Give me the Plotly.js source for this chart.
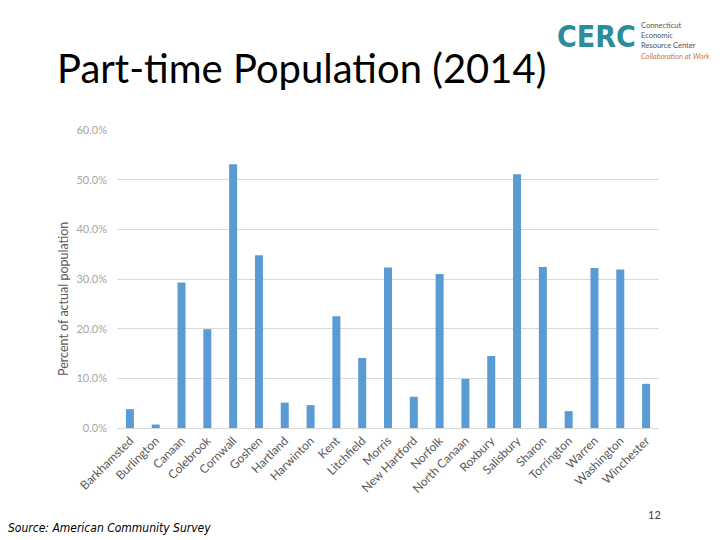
<!DOCTYPE html>
<html>
<head>
<meta charset="utf-8">
<script src="https://cdn.plot.ly/plotly-3.0.1.min.js"></script>
<style>html,body{margin:0;padding:0;background:#fff;}#chart{width:720px;height:540px;}</style>
</head>
<body>
<div id="chart"></div>
<script>
const towns = ["Barkhamsted","Burlington","Canaan","Colebrook","Cornwall","Goshen","Hartland","Harwinton","Kent","Litchfield","Morris","New Hartford","Norfolk","North Canaan","Roxbury","Salisbury","Sharon","Torrington","Warren","Washington","Winchester"];
const partTimePct = [3.8,0.7,29.3,19.9,53.1,34.8,5.1,4.6,22.5,14.1,32.3,6.3,31.0,9.9,14.5,51.1,32.4,3.4,32.2,31.9,8.9];
const yTicks = [0,10,20,30,40,50,60];
const yTickLabels = ["0.0%","10.0%","20.0%","30.0%","40.0%","50.0%","60.0%"];

const trace = {
  type: 'bar',
  x: towns,
  y: partTimePct,
  marker: {color: '#5B9BD5'},
  hoverinfo: 'x+y'
};

const layout = {
  width: 720, height: 540,
  margin: {l: 117, r: 61, t: 130, b: 112},
  paper_bgcolor: '#fff', plot_bgcolor: '#fff',
  bargap: 0.69,
  showlegend: false,
  font: {family: 'Lato, "Open Sans", sans-serif', color: '#595959'},
  xaxis: {
    tickangle: -45,
    tickfont: {size: 12, color: '#595959'},
    showgrid: false,
    showline: true, linecolor: '#d9d9d9', linewidth: 1,
    ticks: '', automargin: false
  },
  yaxis: {
    range: [0, 60],
    tickvals: yTicks,
    ticktext: yTickLabels,
    tickfont: {size: 11, color: '#a6a6a6'},
    showgrid: true, gridcolor: '#d9d9d9', gridwidth: 1,
    zeroline: false, showline: false, ticks: '',
    ticklabelstandoff: 9,
    automargin: false
  },
  annotations: [
    {text: 'Part-time Population (2014)', xref: 'paper', yref: 'paper', x: 0, xanchor: 'left', xshift: -62,
     y: 1, yanchor: 'middle', yshift: 62, showarrow: false,
     font: {family: 'Lato, sans-serif', size: 40, color: '#000'}},
    {text: 'Percent of actual population', xref: 'paper', yref: 'paper', x: 0, xanchor: 'center', xshift: -54,
     y: 0.5, yanchor: 'middle', yshift: -20, textangle: -90, showarrow: false,
     font: {family: 'Lato, sans-serif', size: 12.5, color: '#595959'}},
    {text: '<b>CERC</b>', xref: 'paper', yref: 'paper', x: 0, xanchor: 'left', xshift: 438,
     y: 1, yanchor: 'middle', yshift: 94, showarrow: false,
     font: {family: '"DejaVu Sans Condensed", sans-serif', size: 30, color: '#2a8c9c'}},
    {text: 'Connecticut<br>Economic<br>Resource Center', xref: 'paper', yref: 'paper', x: 0, xanchor: 'left', xshift: 522,
     y: 1, yanchor: 'middle', yshift: 95, showarrow: false, align: 'left',
     font: {family: 'Lato, sans-serif', size: 7.5, color: '#555'}},
    {text: '<i>Collaboration at Work</i>', xref: 'paper', yref: 'paper', x: 0, xanchor: 'left', xshift: 522,
     y: 1, yanchor: 'middle', yshift: 74, showarrow: false,
     font: {family: 'Lato, sans-serif', size: 7.5, color: '#d07a2a'}},
    {text: '<i>Source: American Community Survey</i>', xref: 'paper', yref: 'paper', x: 0, xanchor: 'left', xshift: -111,
     y: 0, yanchor: 'middle', yshift: -100, showarrow: false,
     font: {family: '"Liberation Sans Narrow", "DejaVu Sans Condensed", sans-serif', size: 12, color: '#000'}},
    {text: '12', xref: 'paper', yref: 'paper', x: 1, xanchor: 'right', xshift: 4,
     y: 0, yanchor: 'middle', yshift: -86, showarrow: false,
     font: {family: 'Lato, sans-serif', size: 11, color: '#404040'}}
  ]
};

Plotly.newPlot('chart', [trace], layout, {displayModeBar: false, staticPlot: true});
</script>
</body>
</html>
